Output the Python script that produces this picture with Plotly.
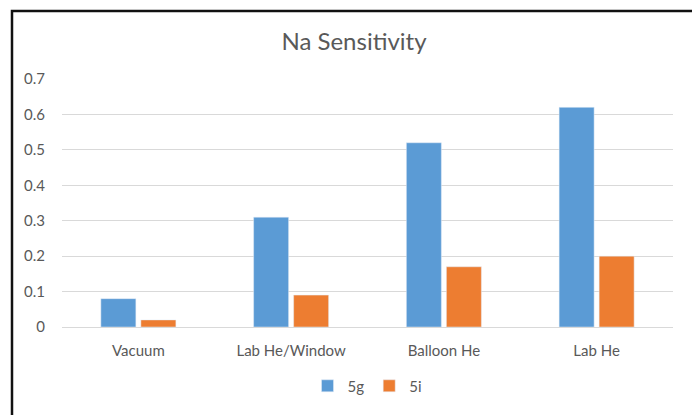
import plotly.graph_objects as go

categories = ["Vacuum", "Lab He/Window", "Balloon He", "Lab He"]
series_5g = [0.08, 0.31, 0.52, 0.62]
series_5i = [0.02, 0.09, 0.17, 0.20]
y_ticks = [0, 0.1, 0.2, 0.3, 0.4, 0.5, 0.6, 0.7]
y_tick_labels = ["0", "0.1", "0.2", "0.3", "0.4", "0.5", "0.6", "0.7"]

FONT = "Lato"
GREY = "#595959"

# page body has an 8px margin, so the figure is drawn at (8, 8)
OFF = 8
W, H = 700 - OFF, 415 - OFF
L, R, T, B = 62 - OFF, W - (673 - OFF), 79 - OFF, H - (331 - OFF)
pw, ph = W - L - R, H - T - B

fig = go.Figure()
fig.add_trace(go.Bar(x=categories, y=series_5g, name="5g", marker_color="#5B9BD5"))
fig.add_trace(go.Bar(x=categories, y=series_5i, name="5i", marker_color="#ED7D31"))

def px_x(x):
    return (x - OFF - L) / pw

def px_y(y):
    return (H - B - (y - OFF)) / ph

fig.update_layout(
    width=W, height=H,
    margin=dict(l=L, r=R, t=T, b=B),
    paper_bgcolor="white", plot_bgcolor="white",
    barmode="group", bargap=0.476, bargroupgap=0.125,
    font=dict(family=FONT, size=15, color=GREY),
    title=dict(text="Na Sensitivity", x=0.5, xanchor="center",
               y=1 - (42 - OFF) / H, yanchor="middle",
               font=dict(family=FONT, size=24, color=GREY)),
    showlegend=True,
    legend=dict(orientation="h", x=0.5, xanchor="center", y=px_y(391), yanchor="middle",
                font=dict(family=FONT, size=15, color=GREY), itemwidth=30,
                traceorder="normal"),
    xaxis=dict(showgrid=False, showline=True, linecolor="#d9d9d9", linewidth=1,
               ticks="", ticklabelstandoff=10, tickfont=dict(size=15, color=GREY)),
    yaxis=dict(range=[0, 0.7], tickvals=y_ticks, ticktext=y_tick_labels,
               showgrid=True, gridcolor="#d9d9d9", gridwidth=1, zeroline=False,
               showline=False, ticks="", ticklabelstandoff=16,
               tickfont=dict(size=15, color=GREY)),
    shapes=[dict(type="rect", xref="paper", yref="paper",
                 x0=px_x(12), x1=px_x(695), y0=px_y(430), y1=px_y(10),
                 line=dict(color="#111111", width=2.5), fillcolor="rgba(0,0,0,0)",
                 layer="above")],
)

fig.write_html("out.html")
